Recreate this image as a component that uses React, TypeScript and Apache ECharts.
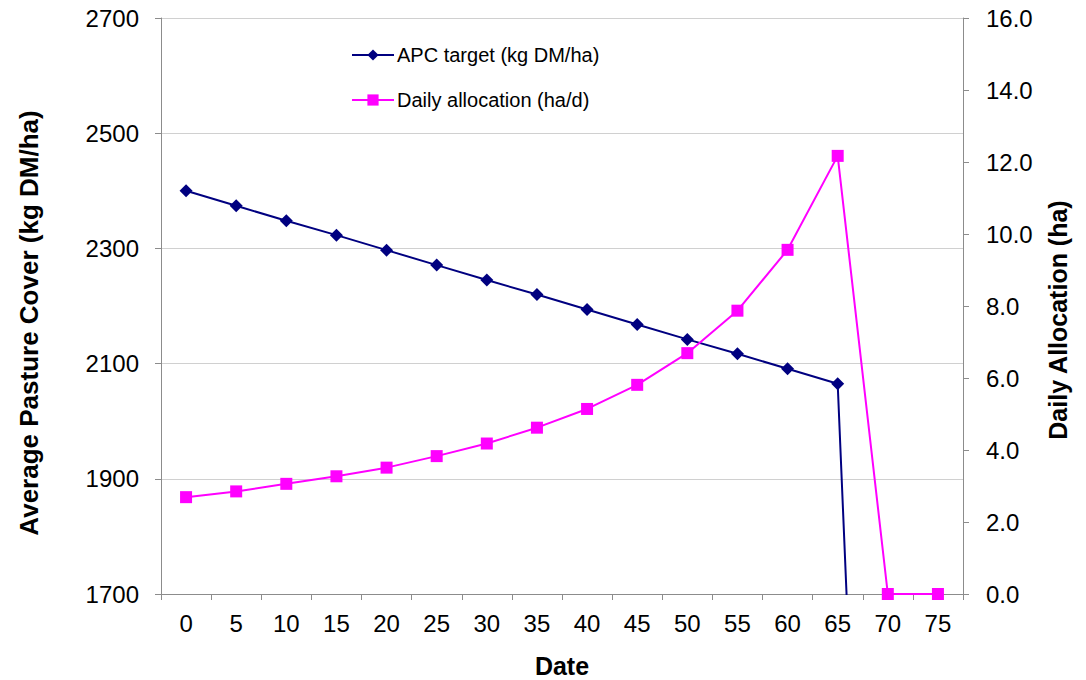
import React, { useEffect, useRef } from "react";
import * as echarts from "echarts";

const dates = ["0", "5", "10", "15", "20", "25", "30", "35", "40", "45", "50", "55", "60", "65", "70", "75"];
const apcTarget = [2400, 2374, 2348, 2323, 2297, 2271, 2245, 2220, 2194, 2168, 2142, 2117, 2091, 2065, 0, 0];
const dailyAllocation = [2.69, 2.85, 3.06, 3.27, 3.51, 3.83, 4.18, 4.62, 5.14, 5.81, 6.69, 7.87, 9.56, 12.17, 0, 0];
const leftTicks = { min: 1700, max: 2700, interval: 200 };
const rightTicks = { min: 0, max: 16, interval: 2 };

const FONT = "'Liberation Sans', Arial, Helvetica, sans-serif";
const AXIS_GRAY = "#8c8c8c";

export default function App() {
  const ref = useRef<HTMLDivElement>(null);
  useEffect(() => {
    if (!ref.current) return;
    const chart = echarts.init(ref.current, undefined, { renderer: "svg" });
    chart.setOption({
      animation: false,
      backgroundColor: "#ffffff",
      textStyle: { fontFamily: FONT },
      grid: { left: 161, right: 123, top: 18, bottom: 86, containLabel: false, outerBoundsMode: "none" },
      legend: {
        orient: "vertical",
        left: 351,
        top: 45,
        padding: 0,
        itemWidth: 42,
        itemHeight: 14,
        itemGap: 25,
        textStyle: { fontFamily: FONT, fontSize: 20, color: "#000", padding: [0, 0, 0, -2] },
        data: ["APC target (kg DM/ha)", "Daily allocation (ha/d)"],
      },
      xAxis: {
        type: "category",
        data: dates,
        boundaryGap: true,
        name: "Date",
        nameLocation: "middle",
        nameGap: 59,
        nameTextStyle: { fontFamily: FONT, fontSize: 25, fontWeight: "bold", color: "#000" },
        axisLine: { onZero: false, lineStyle: { color: AXIS_GRAY, width: 1 } },
        axisTick: { show: true, length: 6, lineStyle: { color: AXIS_GRAY } },
        axisLabel: { fontFamily: FONT, fontSize: 24, color: "#000", margin: 17 },
        splitLine: { show: false },
      },
      yAxis: [
        {
          type: "value",
          min: leftTicks.min,
          max: leftTicks.max,
          interval: leftTicks.interval,
          position: "left",
          name: "Average Pasture Cover (kg DM/ha)",
          nameLocation: "middle",
          nameRotate: 90,
          nameGap: 119,
          nameTextStyle: {
            fontFamily: FONT,
            fontSize: 26,
            fontWeight: "bold",
            color: "#000",
            padding: [0, 34, 0, 0],
          },
          axisLine: { show: true, lineStyle: { color: AXIS_GRAY, width: 1 } },
          axisTick: { show: true, length: 6, lineStyle: { color: AXIS_GRAY } },
          axisLabel: {
            fontFamily: FONT,
            fontSize: 24,
            color: "#000",
            margin: 22,
            formatter: (v: number) => String(v),
          },
          splitLine: { show: true, lineStyle: { color: "#d0d0d0", width: 1 } },
        },
        {
          type: "value",
          min: rightTicks.min,
          max: rightTicks.max,
          interval: rightTicks.interval,
          position: "right",
          name: "Daily Allocation (ha)",
          nameLocation: "middle",
          nameRotate: 90,
          nameGap: 82,
          nameTextStyle: {
            fontFamily: FONT,
            fontSize: 25,
            fontWeight: "bold",
            color: "#000",
            padding: [0, 28, 0, 0],
          },
          axisLine: { show: true, lineStyle: { color: AXIS_GRAY, width: 1 } },
          axisTick: { show: true, length: 6, lineStyle: { color: AXIS_GRAY } },
          axisLabel: {
            fontFamily: FONT,
            fontSize: 24,
            color: "#000",
            margin: 23,
            formatter: (v: number) => v.toFixed(1),
          },
          splitLine: { show: false },
        },
      ],
      series: [
        {
          name: "APC target (kg DM/ha)",
          type: "line",
          yAxisIndex: 0,
          data: apcTarget,
          clip: true,
          symbol: "diamond",
          symbolSize: 13,
          showAllSymbol: true,
          lineStyle: { color: "#000080", width: 2 },
          itemStyle: { color: "#000080" },
        },
        {
          name: "Daily allocation (ha/d)",
          type: "line",
          yAxisIndex: 1,
          data: dailyAllocation,
          clip: false,
          symbol: "rect",
          symbolSize: 12,
          showAllSymbol: true,
          lineStyle: { color: "#ff00ff", width: 2 },
          itemStyle: { color: "#ff00ff" },
        },
      ],
    });
    return () => chart.dispose();
  }, []);
  return (
    <div
      ref={ref}
      style={{ position: "fixed", left: 0, top: 0, width: 1086, height: 680, background: "#fff" }}
    />
  );
}
